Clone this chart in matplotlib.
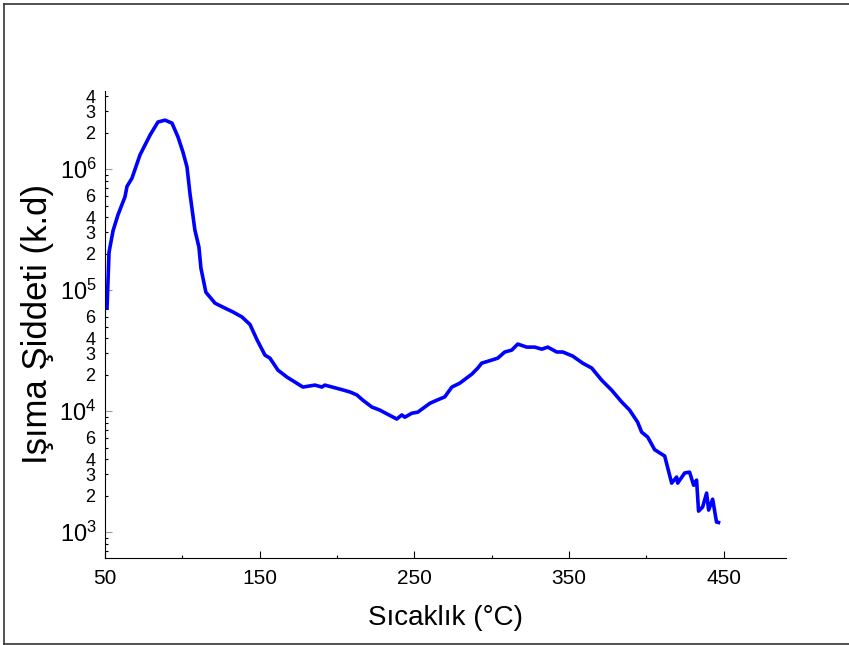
import numpy as np
import matplotlib.pyplot as plt
from matplotlib.ticker import FixedLocator, FuncFormatter
from matplotlib.lines import Line2D

plt.rcParams['font.family'] = ['Liberation Sans', 'DejaVu Sans']
plt.rcParams['mathtext.fontset'] = 'custom'
plt.rcParams['mathtext.rm'] = 'Liberation Sans'
plt.rcParams['mathtext.it'] = 'Liberation Sans'

# glow curve: temperature (C) and intensity (counts)
temp = [51.3, 52.6, 55.2, 58.4, 62.9, 64.2, 67.4, 72.6, 79.1, 84.2,
        88.8, 93.3, 97.2, 100.4, 103.0, 104.9, 108.1, 110.7, 112.0, 115.2,
        121.1, 127.5, 132.7, 138.5, 143.7, 148.2, 153.4, 156.6, 161.8, 167.6,
        172.7, 177.9, 185.7, 190.2, 192.1, 201.8, 208.3, 212.8, 216.7, 222.5,
        227.6, 232.8, 238.6, 241.9, 243.8, 248.3, 252.2, 260.0, 264.5, 269.6,
        274.2, 279.3, 287.1, 291.0, 293.5, 300.0, 303.9, 308.4, 312.9, 316.8,
        322.6, 327.8, 332.3, 336.2, 342.0, 345.9, 352.3, 358.8, 364.6, 371.1,
        377.5, 384.0, 389.1, 394.3, 396.9, 400.8, 405.3, 411.8, 416.3, 419.5,
        420.2, 424.7, 427.9, 430.5, 432.4, 433.7, 436.3, 438.9, 440.2, 442.8,
        445.3, 446.6]
intensity = [7.1e4, 2.06e5, 3.1e5, 4.2e5, 5.9e5, 7.2e5, 8.4e5, 1.31e6, 1.91e6, 2.45e6,
             2.54e6, 2.4e6, 1.84e6, 1.38e6, 1.04e6, 6.3e5, 3.13e5, 2.27e5, 1.52e5, 9.6e4,
             7.8e4, 7.1e4, 6.6e4, 6.0e4, 5.2e4, 3.9e4, 2.9e4, 2.74e4, 2.18e4, 1.91e4,
             1.74e4, 1.58e4, 1.64e4, 1.58e4, 1.64e4, 1.52e4, 1.44e4, 1.36e4, 1.23e4, 1.08e4,
             1.02e4, 9.4e3, 8.6e3, 9.3e3, 8.9e3, 9.6e3, 9.8e3, 1.16e4, 1.23e4, 1.31e4,
             1.58e4, 1.70e4, 2.02e4, 2.27e4, 2.49e4, 2.64e4, 2.74e4, 3.08e4, 3.19e4, 3.58e4,
             3.38e4, 3.38e4, 3.25e4, 3.38e4, 3.08e4, 3.08e4, 2.85e4, 2.49e4, 2.27e4, 1.80e4,
             1.49e4, 1.19e4, 1.02e4, 8.1e3, 6.7e3, 6.1e3, 4.8e3, 4.25e3, 2.54e3, 2.85e3,
             2.54e3, 3.08e3, 3.13e3, 2.44e3, 2.69e3, 1.49e3, 1.61e3, 2.1e3, 1.52e3, 1.87e3,
             1.21e3, 1.2e3]

xticks_major = [50, 150, 250, 350, 450]
xticks_minor = [100, 200, 300, 400]
y_decades = [1e3, 1e4, 1e5, 1e6]
y_labeled_mult = [2, 3, 4, 6]

fig = plt.figure(figsize=(8.49, 6.45), dpi=100)
ax = fig.add_axes([0.1237, 0.1344, 0.9254 - 0.1237, 0.8594 - 0.1344])

ax.plot(temp, intensity, color='#0000ff', lw=2.6, solid_joinstyle='round')

ax.set_yscale('log')
ax.set_xlim(50, 490)
ax.set_ylim(607, 4.45e6)

ax.spines['top'].set_visible(False)
ax.spines['right'].set_visible(False)

ax.xaxis.set_major_locator(FixedLocator(xticks_major))
ax.xaxis.set_minor_locator(FixedLocator(xticks_minor))
ax.tick_params(axis='x', which='major', direction='in', length=4.8, width=0.8,
               labelsize=15, pad=8)
ax.tick_params(axis='x', which='minor', direction='in', length=2.4, width=0.8)

minor_y = [m * d for d in [100] + y_decades for m in range(2, 10)]
ax.yaxis.set_major_locator(FixedLocator(y_decades))
ax.yaxis.set_minor_locator(FixedLocator(minor_y))
ax.yaxis.set_major_formatter(FuncFormatter(lambda v, p: r'$10^{%d}$' % round(np.log10(v))))


def minor_fmt(v, p):
    m = round(v / 10 ** np.floor(np.log10(v) + 1e-9))
    return str(m) if m in y_labeled_mult else ''


ax.yaxis.set_minor_formatter(FuncFormatter(minor_fmt))
ax.tick_params(axis='y', which='major', direction='in', length=5, width=0.8,
               color='#999999', labelsize=17, pad=6)
ax.tick_params(axis='y', which='minor', direction='in', length=2.4, width=0.8,
               labelsize=13, pad=7)

ax.set_xlabel('Sıcaklık (°C)', fontsize=20, labelpad=12)
ax.set_ylabel('Işıma Şiddeti (k.d)', fontsize=25, labelpad=4)

# frame around the whole picture
W, H = 849, 645
for xs, ys in [([4, 4], [4, H - 1.5]), ([4, W + 5], [4, 4]), ([4, W + 5], [H - 1.5, H - 1.5])]:
    fig.add_artist(Line2D([x / W for x in xs], [1 - y / H for y in ys],
                          transform=fig.transFigure, color='#333333', lw=1.2))

fig.savefig('out.png', dpi=100)
